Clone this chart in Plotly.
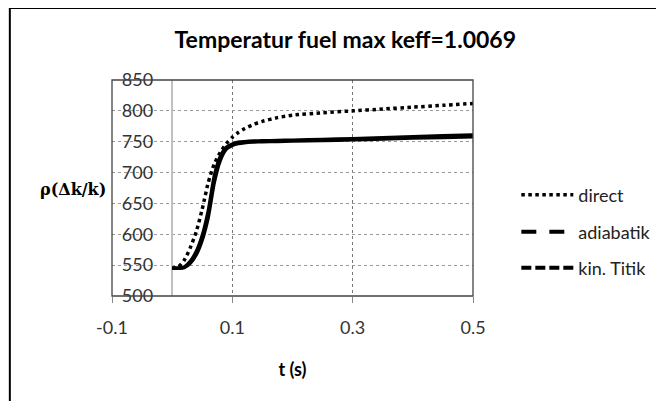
import plotly.graph_objects as go

# ---- data ----
t = [0, 0.01, 0.02, 0.03, 0.04, 0.05, 0.06, 0.07, 0.08, 0.09, 0.10, 0.11, 0.12,
     0.135, 0.15, 0.175, 0.2, 0.25, 0.3, 0.35, 0.4, 0.45, 0.5]
direct = [545, 547, 558, 578, 604, 641, 684, 714, 733, 747, 757, 765, 771,
          778, 783, 789, 793, 797, 800, 803, 806, 809, 812]
adiabatik = [545, 545, 547, 556, 572, 598, 638, 694, 726, 741, 746, 749, 750,
             751, 751.5, 752, 752.5, 753.5, 755, 756.5, 758, 759.5, 761]
kin_titik = [545, 545, 546, 553, 567, 591, 628, 684, 720, 738, 744, 747, 748.5,
             749.5, 750, 750.5, 751, 752, 753, 754.5, 756, 757, 758]
series_names = ["direct", "adiabatik", "kin. Titik"]
x_ticks = [-0.1, 0.1, 0.3, 0.5]
y_ticks = [500, 550, 600, 650, 700, 750, 800, 850]

FONT = "Lato"
fig = go.Figure()

# plotted curves
fig.add_trace(go.Scatter(x=t, y=kin_titik, mode="lines", showlegend=False,
                         line=dict(color="black", width=3.5, shape="spline", smoothing=0.6)))
fig.add_trace(go.Scatter(x=t, y=adiabatik, mode="lines", showlegend=False,
                         line=dict(color="black", width=3.5, shape="spline", smoothing=0.6)))
fig.add_trace(go.Scatter(x=t, y=direct, mode="lines", name=series_names[0], legend="legend",
                         line=dict(color="black", width=3.5, dash="dot", shape="spline", smoothing=0.6)))
# legend entries for the two dashed series
fig.add_trace(go.Scatter(x=[None], y=[None], mode="lines", name=series_names[1], legend="legend2",
                         line=dict(color="black", width=4, dash="15px,13px")))
fig.add_trace(go.Scatter(x=[None], y=[None], mode="lines", name=series_names[2], legend="legend3",
                         line=dict(color="black", width=4, dash="10px,4px")))

leg_common = dict(x=1.12, xanchor="left", yanchor="middle", itemwidth=52,
                  font=dict(family=FONT, size=18, color="#222"), bgcolor="rgba(0,0,0,0)")

fig.update_layout(
    width=664, height=401,
    margin=dict(l=104, r=199, t=72, b=113, autoexpand=False),
    paper_bgcolor="white", plot_bgcolor="white",
    title=dict(text="Temperatur fuel max keff=1.0069", x=0.508, xanchor="center",
               y=0.92, yref="container", yanchor="middle",
               font=dict(family=FONT, size=23, color="black", weight="bold")),
    legend=dict(y=0.4676, **leg_common),
    legend2=dict(y=0.2963, **leg_common),
    legend3=dict(y=0.1296, **leg_common),
    xaxis=dict(range=[-0.1, 0.5], tickvals=x_ticks, ticktext=[str(v) for v in x_ticks],
               showgrid=True, gridcolor="#777", griddash="dot", gridwidth=1,
               zeroline=True, zerolinecolor="#c0c0c0", zerolinewidth=2,
               ticks="outside", ticklen=6, tickcolor="#888",
               ticklabelstandoff=9, automargin=False,
               tickfont=dict(family=FONT, size=18, color="#333"),
               title=dict(text="t (s)", standoff=26,
                          font=dict(family=FONT, size=18, color="black", weight="bold")),
               showline=False),
    yaxis=dict(range=[500, 850], tickvals=y_ticks, anchor="free", position=1/6,
               showgrid=True, gridcolor="#999", griddash="dot", gridwidth=1,
               zeroline=False, showline=False, ticks="", automargin=False,
               ticklabelstandoff=19,
               tickfont=dict(family=FONT, size=18, color="#333")),
    shapes=[
        dict(type="rect", xref="x domain", yref="y domain", x0=0, x1=1, y0=0, y1=1,
             line=dict(color="#444", width=1.3), layer="above"),
        dict(type="rect", xref="paper", yref="paper", x0=-0.283, x1=1.7, y0=-0.6, y1=1.333,
             line=dict(color="black", width=2), layer="above"),
    ],
    annotations=[
        dict(text="ρ(Δk/k)", xref="paper", yref="paper", x=-0.108, y=0.491,
             xanchor="center", yanchor="middle", showarrow=False,
             font=dict(family="DejaVu Serif", size=16, color="black", weight="bold")),
    ],
)

fig.write_html("out.html")
